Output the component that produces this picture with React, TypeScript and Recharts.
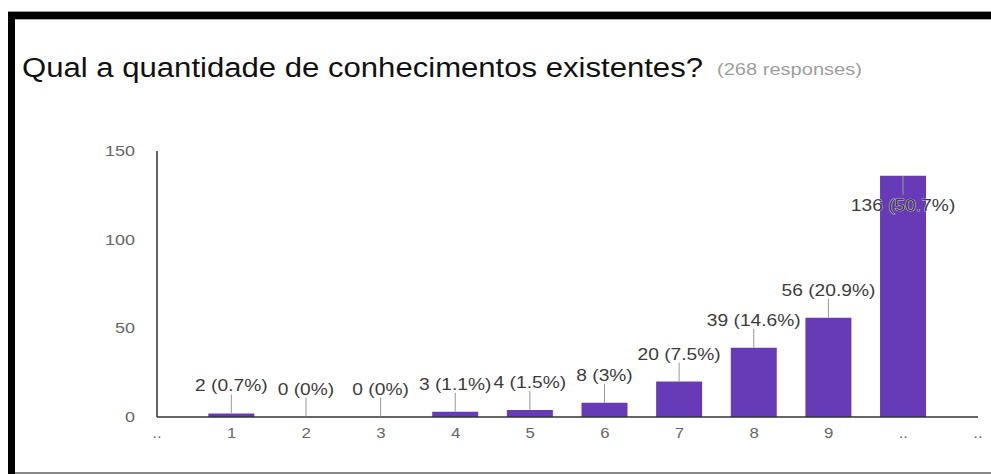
import React from 'react';
import { BarChart, Bar, XAxis, YAxis, LabelList, Rectangle } from 'recharts';

// answers on the linear scale and how many people picked each one
const answers = [1, 2, 3, 4, 5, 6, 7, 8, 9, 10];
const counts = [2, 0, 0, 3, 4, 8, 20, 39, 56, 136];
const percents = ['0.7%', '0%', '0%', '1.1%', '1.5%', '3%', '7.5%', '14.6%', '20.9%', '50.7%'];

// x ticks and what is printed under each (the ends come out as dots in the screenshot)
const xTicks = [0, 1, 2, 3, 4, 5, 6, 7, 8, 9, 10, 11];
const xTickLabels = ['..', '1', '2', '3', '4', '5', '6', '7', '8', '9', '..', '..'];
const yTicks = [0, 50, 100, 150];

const title = 'Qual a quantidade de conhecimentos existentes?';
const subtitle = '(268 responses)';

const data = answers.map((a, i) => ({ answer: a, count: counts[i], pct: percents[i] }));

const FONT = '"Liberation Sans", Arial, sans-serif';
const PURPLE = '#673ab7';
const PLOT_TOP = 151;
const STRETCH = 1.2; // screenshot is stretched sideways

const XTick = (props: any) => {
  const { x, payload } = props;
  const label = xTickLabels[xTicks.indexOf(payload.value)];
  return (
    <text
      transform={`translate(${x},438) scale(${STRETCH},1)`}
      textAnchor="middle"
      fontSize={14}
      fontFamily={FONT}
      fill="#666"
    >
      {label}
    </text>
  );
};

const YTick = (props: any) => {
  const { y, payload } = props;
  return (
    <text
      transform={`translate(135,${y + 5}) scale(${STRETCH},1)`}
      textAnchor="end"
      fontSize={15}
      fontFamily={FONT}
      fill="#666"
    >
      {payload.value}
    </text>
  );
};

// zero answers keep a hairline entry so their label still shows, but draw no bar
const BarShape = (props: any) => {
  if (!props.payload || props.payload.count === 0) return <g />;
  return <Rectangle {...props} />;
};

const renderLabel = (props: any) => {
  const { x, y, width, value } = props;
  const cx = x + width / 2;
  const d = data.find((row) => row.answer === value);
  if (!d) return null;
  const text = `${d.count} (${d.pct})`;
  const inside = y - 27 < PLOT_TOP;
  const lineEnd = inside ? y + 19 : y - 19;
  const baseline = inside ? y + 35 : y - 22;
  return (
    <g key={`lbl-${value}`}>
      <line x1={cx} x2={cx} y1={y} y2={lineEnd} stroke="#999" strokeWidth={1} />
      <text
        transform={`translate(${cx},${baseline}) scale(${STRETCH},1)`}
        textAnchor="middle"
        fontSize={16}
        fontFamily={FONT}
        fill="#3c3c3c"
        stroke={inside ? '#fff' : 'none'}
        strokeWidth={inside ? 0.6 : 0}
        style={{ paintOrder: 'stroke' }}
      >
        {text}
      </text>
    </g>
  );
};

export default function App() {
  return (
    <div
      style={{
        position: 'absolute',
        left: 0,
        top: 0,
        width: 991,
        height: 474,
        background: '#fff',
        overflow: 'hidden',
      }}
    >
      {/* frame of the screenshot */}
      <div style={{ position: 'absolute', left: 8, top: 11, width: 983, height: 1, background: '#999' }} />
      <div style={{ position: 'absolute', left: 8, top: 12, width: 983, height: 7, background: '#000' }} />
      <div style={{ position: 'absolute', left: 8, top: 19, width: 983, height: 1, background: '#aaa' }} />
      <div style={{ position: 'absolute', left: 8, top: 12, width: 7, height: 462, background: '#000' }} />
      <div style={{ position: 'absolute', left: 15, top: 472, width: 976, height: 2, background: '#888' }} />

      <svg width={991} height={474} style={{ position: 'absolute', left: 0, top: 0 }}>
        <text
          x={22}
          y={77}
          fontSize={27}
          fontFamily={FONT}
          fill="#111"
          textLength={681}
          lengthAdjust="spacingAndGlyphs"
        >
          {title}
        </text>
        <text
          x={717}
          y={75}
          fontSize={16}
          fontFamily={FONT}
          fill="#9e9e9e"
          textLength={145}
          lengthAdjust="spacingAndGlyphs"
        >
          {subtitle}
        </text>
      </svg>

      <div style={{ position: 'absolute', left: 0, top: 0 }}>
        <BarChart width={991} height={474} data={data} margin={{ top: PLOT_TOP, right: 13, bottom: 27, left: 97 }}>
          <XAxis
            dataKey="answer"
            type="number"
            domain={[0, 11]}
            ticks={xTicks}
            interval={0}
            height={30}
            tick={<XTick />}
            tickLine={false}
            axisLine={{ stroke: '#333', strokeWidth: 1.5 }}
          />
          <YAxis
            domain={[0, 150]}
            ticks={yTicks}
            width={60}
            tick={<YTick />}
            tickLine={false}
            axisLine={{ stroke: '#333', strokeWidth: 1.5 }}
          />
          <Bar
            dataKey="count"
            fill={PURPLE}
            barSize={46}
            minPointSize={(v: number) => (v === 0 ? 0.5 : 0)}
            shape={<BarShape />}
            isAnimationActive={false}
          >
            <LabelList dataKey="answer" content={renderLabel} />
          </Bar>
        </BarChart>
      </div>
    </div>
  );
}
